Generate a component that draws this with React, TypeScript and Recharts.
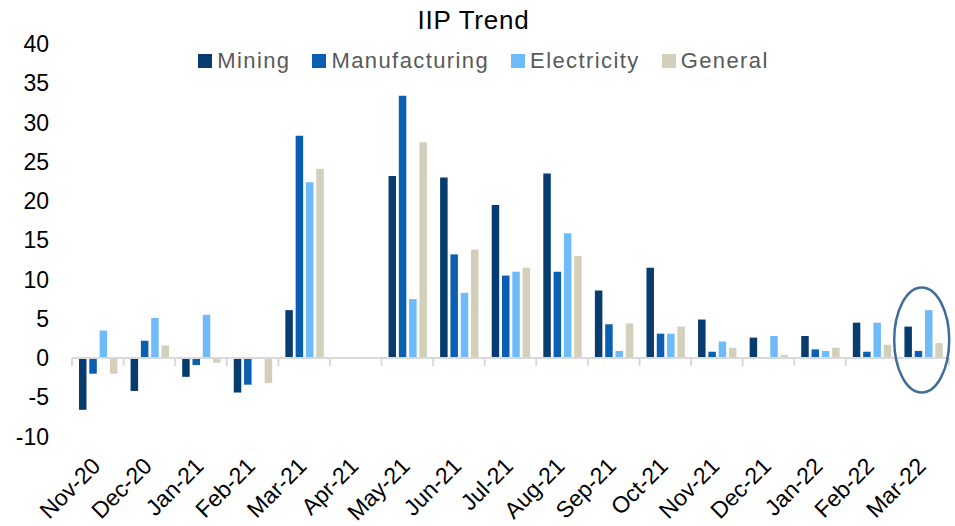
import React from 'react';
import {
	BarChart,
	Bar,
	XAxis,
	YAxis,
	ReferenceLine,
	ReferenceDot,
} from 'recharts';

const months = [
	'Nov-20', 'Dec-20', 'Jan-21', 'Feb-21', 'Mar-21', 'Apr-21', 'May-21', 'Jun-21', 'Jul-21',
	'Aug-21', 'Sep-21', 'Oct-21', 'Nov-21', 'Dec-21', 'Jan-22', 'Feb-22', 'Mar-22',
];
const mining = [-6.6, -4.2, -2.4, -4.4, 6.1, null, 23.2, 23.0, 19.5, 23.5, 8.6, 11.5, 4.9, 2.6, 2.8, 4.5, 4.0];
const manufacturing = [-2.0, 2.2, -0.9, -3.4, 28.3, null, 33.4, 13.2, 10.5, 11.0, 4.3, 3.1, 0.8, 0, 1.1, 0.8, 0.9];
const electricity = [3.5, 5.1, 5.5, 0.1, 22.4, null, 7.5, 8.3, 11.0, 15.9, 0.9, 3.1, 2.1, 2.8, 0.9, 4.5, 6.1];
const general = [-2.0, 1.6, -0.6, -3.2, 24.1, null, 27.5, 13.8, 11.5, 13.0, 4.4, 4.0, 1.3, 0.4, 1.3, 1.7, 1.9];
const yTicks = [-10, -5, 0, 5, 10, 15, 20, 25, 30, 35, 40];

const seriesList = [
	{ key: 'Mining', color: '#073C6E' },
	{ key: 'Manufacturing', color: '#0A5FB0' },
	{ key: 'Electricity', color: '#6EBBFB' },
	{ key: 'General', color: '#D2CFBB' },
];

const data = months.map((m, i) => ({
	month: m,
	Mining: mining[i],
	Manufacturing: manufacturing[i],
	Electricity: electricity[i],
	General: general[i],
}));

const FONT = '"Liberation Sans", Arial, sans-serif';

const MonthTick = (props: any) => {
	const { x, y, payload } = props;
	const ax = x + 4;
	const ay = y + 31;
	return (
		<text
			x={ax}
			y={ay}
			textAnchor='end'
			transform={`rotate(-45, ${ax}, ${ay})`}
			fontSize={23}
			fontFamily={FONT}
			fill='#000'
		>
			{payload.value}
		</text>
	);
};

const ZeroAxis = (props: any) => {
	const { x1, y1, x2 } = props;
	const n = months.length;
	const step = (x2 - x1) / n;
	return (
		<g>
			<line x1={x1} y1={y1} x2={x2} y2={y1} stroke='#D9D9D9' strokeWidth={2} />
			{Array.from({ length: n + 1 }, (_, i) => (
				<line
					key={i}
					x1={x1 + i * step}
					x2={x1 + i * step}
					y1={y1}
					y2={y1 + 8}
					stroke='#D9D9D9'
					strokeWidth={2}
				/>
			))}
		</g>
	);
};

const Circle = (props: any) => {
	const { cx, cy } = props;
	return (
		<ellipse cx={cx - 1.5} cy={cy} rx={27.5} ry={52.5} fill='none' stroke='#3F6C98' strokeWidth={2.5} />
	);
};

export default function App() {
	return (
		<div style={{ position: 'absolute', left: 0, top: 0, width: 955, height: 526, background: '#fff' }}>
			<div
				style={{
					position: 'absolute',
					left: 0,
					top: 7,
					width: 947,
					textAlign: 'center',
					fontFamily: FONT,
					fontSize: 26,
					lineHeight: '26px',
					letterSpacing: 0.8,
					color: '#000',
					zIndex: 2,
				}}
			>
				IIP Trend
			</div>
			<div
				style={{
					position: 'absolute',
					left: 0,
					top: 50,
					width: 989,
					display: 'flex',
					justifyContent: 'center',
					alignItems: 'center',
					fontFamily: FONT,
					fontSize: 22,
					lineHeight: '22px',
					color: '#595959',
					letterSpacing: 1.4,
					zIndex: 2,
				}}
			>
				{seriesList.map((s) => (
					<div key={s.key} style={{ display: 'flex', alignItems: 'center', marginRight: 22 }}>
						<span style={{ width: 14, height: 14, background: s.color, marginRight: 5 }} />
						<span>{s.key}</span>
					</div>
				))}
			</div>
			<BarChart
				width={955}
				height={526}
				data={data}
				margin={{ top: 44, right: 6, bottom: 0, left: 0 }}
				barGap={2.8}
				barCategoryGap='13%'
			>
				<XAxis
					dataKey='month'
					interval={0}
					axisLine={false}
					tickLine={false}
					tickSize={0}
					tickMargin={0}
					height={89.5}
					tick={<MonthTick />}
				/>
				<YAxis
					domain={[-10, 40]}
					ticks={yTicks}
					axisLine={false}
					tickLine={false}
					tickSize={0}
					tickMargin={23}
					width={72}
					tick={{ fontSize: 23, fontFamily: FONT, fill: '#000' }}
				/>
				<ReferenceLine y={0} shape={<ZeroAxis />} />
				{seriesList.map((s) => (
					<Bar
						key={s.key}
						dataKey={s.key}
						fill={s.color}
						barSize={7.5}
						isAnimationActive={false}
					/>
				))}
				<ReferenceDot x='Mar-22' y={2.3} shape={<Circle />} ifOverflow='visible' />
			</BarChart>
		</div>
	);
}
